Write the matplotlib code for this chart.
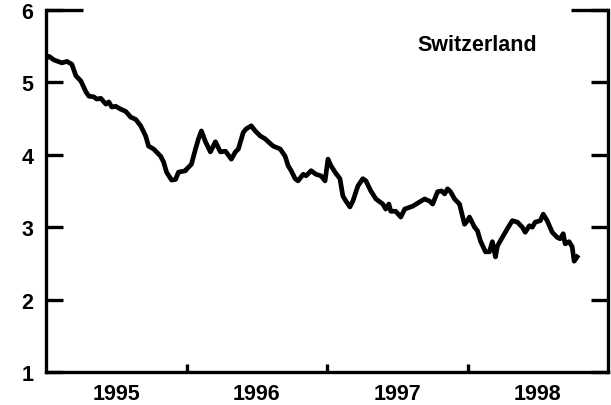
import matplotlib.pyplot as plt
import numpy as np

plt.rcParams.update({
    "font.family": "Liberation Sans",
    "font.weight": "bold",
    "font.size": 15.5,
})

# Rate path, decimal years vs. percent
years = [
    1995.000, 1995.021, 1995.057, 1995.113, 1995.149, 1995.184, 1995.213, 1995.248,
    1995.284, 1995.305, 1995.340, 1995.362, 1995.390, 1995.426, 1995.447, 1995.468,
    1995.496, 1995.532, 1995.567, 1995.603, 1995.638, 1995.674, 1995.709, 1995.730,
    1995.766, 1995.816, 1995.837, 1995.858, 1995.894, 1995.922, 1995.943, 1995.993,
    1996.000, 1996.035, 1996.064, 1996.085, 1996.106, 1996.135, 1996.170, 1996.206,
    1996.241, 1996.277, 1996.319, 1996.348, 1996.369, 1996.404, 1996.426, 1996.461,
    1996.489, 1996.525, 1996.560, 1996.582, 1996.617, 1996.667, 1996.702, 1996.723,
    1996.745, 1996.773, 1996.794, 1996.830, 1996.851, 1996.887, 1996.922, 1996.957,
    1996.986, 1997.007, 1997.028, 1997.057, 1997.092, 1997.113, 1997.135, 1997.163,
    1997.184, 1997.220, 1997.255, 1997.277, 1997.312, 1997.348, 1997.397, 1997.418,
    1997.440, 1997.454, 1997.489, 1997.525, 1997.553, 1997.610, 1997.660, 1997.695,
    1997.730, 1997.752, 1997.787, 1997.816, 1997.837, 1997.858, 1997.879, 1997.908,
    1997.943, 1997.965, 1997.979, 1998.000, 1998.014, 1998.050, 1998.071, 1998.092,
    1998.128, 1998.156, 1998.177, 1998.199, 1998.213, 1998.248, 1998.284, 1998.319,
    1998.355, 1998.390, 1998.411, 1998.440, 1998.461, 1998.482, 1998.518, 1998.539,
    1998.567, 1998.603, 1998.638, 1998.660, 1998.681, 1998.695, 1998.723, 1998.745,
    1998.759, 1998.780,
]
rates = [
    5.33, 5.36, 5.31, 5.27, 5.29, 5.25, 5.09, 5.02,
    4.87, 4.81, 4.80, 4.77, 4.78, 4.70, 4.73, 4.66,
    4.67, 4.63, 4.60, 4.52, 4.49, 4.40, 4.26, 4.12,
    4.08, 3.98, 3.90, 3.76, 3.65, 3.66, 3.76, 3.78,
    3.80, 3.87, 4.08, 4.22, 4.33, 4.18, 4.04, 4.18,
    4.04, 4.05, 3.94, 4.04, 4.08, 4.31, 4.36, 4.40,
    4.33, 4.26, 4.22, 4.18, 4.12, 4.08, 3.98, 3.85,
    3.78, 3.67, 3.64, 3.73, 3.71, 3.78, 3.73, 3.71,
    3.64, 3.94, 3.85, 3.76, 3.67, 3.43, 3.36, 3.28,
    3.36, 3.57, 3.67, 3.64, 3.50, 3.39, 3.32, 3.25,
    3.32, 3.22, 3.22, 3.14, 3.25, 3.29, 3.35, 3.39,
    3.36, 3.32, 3.49, 3.50, 3.46, 3.53, 3.49, 3.39,
    3.32, 3.15, 3.04, 3.09, 3.14, 3.00, 2.95, 2.81,
    2.66, 2.66, 2.80, 2.59, 2.74, 2.86, 2.98, 3.09,
    3.07, 3.00, 2.93, 3.02, 3.00, 3.07, 3.09, 3.18,
    3.09, 2.93, 2.86, 2.84, 2.91, 2.77, 2.80, 2.73,
    2.53, 2.59,
]
year_labels = ["1995", "1996", "1997", "1998"]
y_ticks = [1, 2, 3, 4, 5, 6]
title = "Switzerland"

fig = plt.figure(figsize=(6.11, 4.06), dpi=100)
ax = fig.add_axes([0.0753, 0.0813, 0.9198, 0.8916])

ax.plot(years, rates, color="black", lw=3.4, solid_joinstyle="round")

ax.set_xlim(1995, 1999)
ax.set_ylim(1, 6)

# year boundaries get short inward ticks, labels sit mid-year
ax.set_xticks([1996, 1997, 1998])
ax.set_xticklabels([])
ax.set_xticks([1995.5, 1996.5, 1997.5, 1998.5], minor=True)
ax.set_xticklabels(year_labels, minor=True)
ax.tick_params(axis="x", which="major", direction="in", length=6, width=2.4)
ax.tick_params(axis="x", which="minor", length=0, pad=8)

ax.set_yticks(y_ticks)
ax.set_yticklabels([str(v) for v in y_ticks])
ax.tick_params(axis="y", direction="in", length=12, width=2.4, left=True, right=True, pad=9)

for side in ["left", "right", "bottom"]:
    ax.spines[side].set_linewidth(2.4)
ax.spines["top"].set_visible(False)

# short stubs in place of the top frame
ax.plot([0, 0.066], [1, 1], transform=ax.transAxes, color="black", lw=2.4,
        clip_on=False, solid_capstyle="butt")
ax.plot([0.934, 1], [1, 1], transform=ax.transAxes, color="black", lw=2.4,
        clip_on=False, solid_capstyle="butt")

ax.text(0.767, 0.906, title, transform=ax.transAxes, ha="center", va="center",
        fontsize=15.5, fontweight="bold")

fig.savefig("out.png", dpi=100)
